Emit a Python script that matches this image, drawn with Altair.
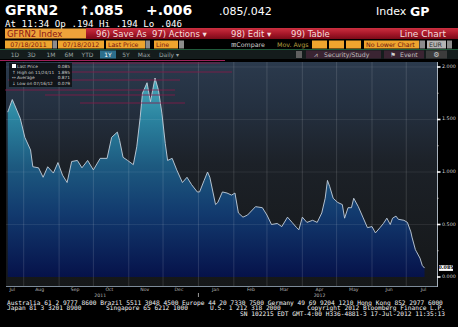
import altair as alt
import pandas as pd

# ---------------- data ----------------
START = "2011-07-18"
day_offsets = [0, 4, 6, 11, 15, 20, 22, 27, 31, 35,
               40, 44, 48, 52, 56, 61, 65, 70, 75, 81,
               87, 91, 96, 98, 101, 105, 110, 113, 116, 118,
               122, 125, 129, 132, 135, 138, 140, 144, 148, 153,
               157, 161, 166, 168, 172, 175, 177, 182, 184, 188,
               192, 196, 199, 202, 206, 210, 217, 223, 227, 231,
               236, 240, 245, 249, 253, 255, 258, 262, 267, 271,
               275, 278, 280, 282, 285, 289, 293, 295, 298, 301,
               303, 307, 311, 315, 319, 322, 326, 329, 332, 335,
               337, 340, 342, 347, 350, 353, 354, 357, 358, 361,
               363, 365]
gfrn2_values = [1.57, 1.69, 1.64, 1.51, 1.33, 1.21, 1.05, 1.04, 0.95, 1.05,
                0.99, 1.09, 0.97, 0.90, 1.10, 1.11, 1.04, 1.11, 1.02, 1.13,
                1.13, 1.33, 1.38, 1.30, 1.14, 1.11, 1.07, 1.24, 1.52, 1.75,
                1.85, 1.67, 1.895, 1.78, 1.56, 1.27, 1.11, 1.13, 1.02, 0.90,
                0.95, 0.88, 0.81, 0.81, 0.92, 1.00, 0.95, 0.69, 0.71, 0.81,
                0.80, 0.78, 0.80, 0.61, 0.57, 0.59, 0.67, 0.66, 0.59, 0.50,
                0.51, 0.48, 0.57, 0.52, 0.47, 0.45, 0.57, 0.52, 0.54, 0.52,
                0.61, 0.75, 0.92, 0.86, 0.75, 0.71, 0.69, 0.56, 0.66, 0.66,
                0.75, 0.67, 0.57, 0.47, 0.48, 0.42, 0.47, 0.51, 0.56, 0.50,
                0.56, 0.58, 0.55, 0.54, 0.52, 0.43, 0.38, 0.26, 0.24, 0.18,
                0.11, 0.085]

month_starts = ["2011-08-01", "2011-09-01", "2011-10-01", "2011-11-01", "2011-12-01",
                "2012-01-01", "2012-02-01", "2012-03-01", "2012-04-01", "2012-05-01",
                "2012-06-01", "2012-07-01"]
month_label_dates = ["2011-07-22", "2011-08-15", "2011-09-15", "2011-10-15", "2011-11-15",
                     "2011-12-15", "2012-01-16", "2012-02-16", "2012-03-16", "2012-04-16",
                     "2012-05-16", "2012-06-16", "2012-07-16"]
month_labels = ["Jul", "Aug", "Sep", "Oct", "Nov", "Dec", "Jan", "Feb", "Mar", "Apr",
                "May", "Jun", "Jul"]
year_label_dates = ["2011-10-07", "2012-04-16"]
year_labels = ["2011", "2012"]
year_break = ["2012-01-01"]
major_ticks = [0.0, 0.5, 1.0, 1.5, 2.0]
minor_ticks = [0.25, 0.75, 1.25, 1.75]
h_grid = [0.5, 1.0, 1.5, 2.0]
legend_names = ["Last Price", "High on 11/24/11", "Average", "Low on 07/16/12"]
legend_values = ["0.085", "1.895", "0.871", "0.079"]
last_price = 0.085

# ---------------- tables ----------------
series = pd.DataFrame({
    "date": pd.Timestamp(START) + pd.to_timedelta(day_offsets, unit="D"),
    "value": gfrn2_values,
})
months_df = pd.DataFrame({"date": pd.to_datetime(month_starts)})
mlab_df = pd.DataFrame({"date": pd.to_datetime(month_label_dates), "label": month_labels})
ylab_df = pd.DataFrame({"date": pd.to_datetime(year_label_dates), "label": year_labels})
ybrk_df = pd.DataFrame({"date": pd.to_datetime(year_break)})
hgrid_df = pd.DataFrame({"v": h_grid})
major_df = pd.DataFrame({"v": major_ticks, "label": [f"{t:.3f}" for t in major_ticks]})
minor_df = pd.DataFrame({"v": minor_ticks})
last_df = pd.DataFrame({"v": [last_price], "label": [f"{last_price:.3f}"]})

# ---------------- layout constants ----------------
W, H = 431, 225
PL, PT = 6, 62
SANS = "DejaVu Sans"
MONO = "DejaVu Sans Mono"
DUMMY = alt.Data(values=[{"k": 1}])

XS = alt.Scale(domain=[alt.DateTime(year=2011, month=7, date=16, hours=12),
                       alt.DateTime(year=2012, month=7, date=27, hours=22)])
YS = alt.Scale(domain=[-0.0952, 2.0476], nice=False, zero=False)
XT = alt.X("date:T", scale=XS, axis=None)


def grad(stops):
    return alt.LinearGradient(
        gradient="linear", x1=0, y1=0, x2=0, y2=1,
        stops=[alt.GradientStop(color=c, offset=o) for o, c in stops])


def prect(x0, y0, x1, y1, fill, opacity=1.0):
    return alt.Chart(DUMMY).mark_rect(fill=fill, opacity=opacity).encode(
        x=alt.value(x0 - PL), x2=alt.value(x1 - PL),
        y=alt.value(y0 - PT), y2=alt.value(y1 - PT))


def prule(x0, x1, y, color, width=1.0, opacity=1.0):
    return alt.Chart(DUMMY).mark_rule(color=color, strokeWidth=width, opacity=opacity).encode(
        x=alt.value(x0 - PL), x2=alt.value(x1 - PL), y=alt.value(y - PT))


def ptext(s, x, y, size, color, font=SANS, weight="normal", align="left"):
    return alt.Chart(DUMMY).mark_text(
        fontSize=size, color=color, font=font, fontWeight=weight,
        align=align, baseline="alphabetic").encode(
        x=alt.value(x - PL), y=alt.value(y - PT), text=alt.value(s))


layers = []

# plot background
layers.append(prect(PL, PT, PL + W, PT + H,
                    grad([(0, "#2b3a4d"), (0.2, "#243040"), (0.45, "#1c2128"), (1, "#151718")])))

# area
area_fill = grad([(0, "#48aabb"), (0.2, "#2b84a0"), (0.44, "#1d5a80"),
                  (0.68, "#123a6e"), (1, "#06124a")])
layers.append(
    alt.Chart(series).mark_area(fill=area_fill, opacity=1).encode(
        x=XT, y=alt.Y("value:Q", scale=YS, axis=None), y2=alt.value(H)))

# grids on top of the area
layers.append(
    alt.Chart(hgrid_df).mark_rule(color="#ffffff", opacity=0.08, strokeWidth=1).encode(
        y=alt.Y("v:Q", scale=YS, axis=None), x=alt.value(0), x2=alt.value(W)))
layers.append(
    alt.Chart(months_df).mark_rule(color="#ffffff", opacity=0.13, strokeWidth=1).encode(
        x=XT, y=alt.value(0), y2=alt.value(H)))

# price line
layers.append(
    alt.Chart(series).mark_line(color="#c4d0dc", strokeWidth=0.9).encode(
        x=XT, y=alt.Y("value:Q", scale=YS, axis=None)))

# right value axis
layers.append(alt.Chart(DUMMY).mark_rule(color="#a8b2bc", strokeWidth=1).encode(
    x=alt.value(W + 0.5), y=alt.value(0), y2=alt.value(H)))
layers.append(
    alt.Chart(major_df).mark_rule(color="#ffffff", strokeWidth=1.6).encode(
        y=alt.Y("v:Q", scale=YS, axis=None), x=alt.value(W), x2=alt.value(W + 3.5)))
layers.append(
    alt.Chart(minor_df).mark_rule(color="#c8c8c8", strokeWidth=1).encode(
        y=alt.Y("v:Q", scale=YS, axis=None), x=alt.value(W), x2=alt.value(W + 1.5)))
layers.append(
    alt.Chart(major_df).mark_text(fontSize=4.8, font=SANS, color="#d8d8d8",
                                  align="left", baseline="middle").encode(
        y=alt.Y("v:Q", scale=YS, axis=None), x=alt.value(W + 5), text="label:N"))

# pink ghost lines of menus
for x0, x1, yy in [(72, 220, 63), (70, 232, 72), (8, 180, 80), (5, 175, 90),
                   (45, 175, 95), (80, 185, 103)]:
    layers.append(prule(x0, x1, yy, "#8a1a48", 1, 0.8))

# legend box
layers.append(prect(9, 63, 72, 87, "#0c0f12", 0.85))
layers.append(prect(12, 64, 16, 68, "#ffffff"))
icons = ["", "↑", "↔", "↓"]
for i, (nm, vv) in enumerate(zip(legend_names, legend_values)):
    yy = 68 + i * 5.7
    if icons[i]:
        layers.append(ptext(icons[i], 12, yy, 4.5, "#d0d0d0"))
    layers.append(ptext(nm, 17, yy, 4.3, "#d0d0d0"))
    layers.append(ptext(vv, 70, yy, 4.3, "#d0d0d0", align="right"))

# last price tag
layers.append(
    alt.Chart(last_df).transform_calculate(
        top="datum.v + 0.027", bot="datum.v - 0.027").mark_rect(fill="#ffffff").encode(
        y=alt.Y("top:Q", scale=YS, axis=None), y2="bot:Q",
        x=alt.value(W + 2), x2=alt.value(W + 16)))
layers.append(
    alt.Chart(last_df).mark_text(fontSize=4.8, font=SANS, fontWeight="bold", color="#000000",
                                 align="center", baseline="middle").encode(
        y=alt.Y("v:Q", scale=YS, axis=None), x=alt.value(W + 9), text="label:N"))

# x axis
layers.append(prule(PL, PL + W, PT + H - 0.5, "#7d8b99", 1))
layers.append(
    alt.Chart(mlab_df).mark_text(fontSize=4.6, font=SANS, color="#b8b8b8",
                                 baseline="middle").encode(
        x=XT, y=alt.value(H + 3), text="label:N"))
layers.append(
    alt.Chart(ylab_df).mark_text(fontSize=4.6, font=SANS, color="#b8b8b8",
                                 baseline="middle").encode(
        x=XT, y=alt.value(H + 9), text="label:N"))
layers.append(
    alt.Chart(ybrk_df).mark_rule(color="#9a9a9a", strokeWidth=1).encode(
        x=XT, y=alt.value(H + 6), y2=alt.value(H + 10)))

# ---------------- header ----------------
layers.append(ptext("GFRN2", 5, 15, 14, "#ffffff", weight="bold"))
layers.append(ptext("↑", 79, 15, 13, "#ffffff", weight="bold"))
layers.append(ptext(".085", 89, 15, 14, "#ffffff", weight="bold"))
layers.append(ptext("+.006", 146, 15, 14, "#ffffff", weight="bold"))
layers.append(ptext(".085/.042", 219, 15, 11, "#ffffff"))
layers.append(ptext("Index", 376, 15, 11, "#ffffff"))
layers.append(ptext("GP", 410, 15.5, 12.5, "#ffffff", weight="bold"))
layers.append(ptext("At 11:34 Op .194 Hi .194 Lo .046", 5, 27, 9.2, "#ffffff", font=MONO))

# toolbar row 1
layers.append(prect(86, 28, 458, 39, grad([(0, "#cc3040"), (0.5, "#a8182a"), (1, "#7a0a18")])))
layers.append(prect(5, 28.5, 86, 38.5, "#eea23a"))
layers.append(ptext("GFRN2 Index", 7, 36.5, 8.5, "#8a1414"))
layers.append(ptext("96) Save As", 96, 36.5, 8.5, "#f6dede"))
layers.append(ptext("97) Actions ▾", 152, 36.5, 8.5, "#f6dede"))
layers.append(ptext("98) Edit ▾", 231, 36.5, 8.5, "#f6dede"))
layers.append(ptext("99) Table", 291, 36.5, 8.5, "#f6dede"))
layers.append(ptext("Line Chart", 446, 36.5, 9, "#f6dede", align="right"))

# toolbar row 2
ORG = "#eea52e"
for x0, x1, lab, centered in [(5, 52, "07/18/2011", True), (58, 104, "07/18/2012", True),
                              (106, 145, "Last Price", False), (154, 178, "Line", False)]:
    layers.append(prect(x0, 40.5, x1, 48.5, ORG))
    layers.append(ptext(lab, (x0 + x1) / 2 if centered else x0 + 2, 47, 6.3, "#7a1010",
                        align="center" if centered else "left"))
for x0, x1 in [(52.5, 57), (145.5, 150), (179, 184), (419.5, 425), (447, 452)]:
    layers.append(prect(x0, 40.5, x1, 48.5, "#8c8c8c"))
layers.append(ptext("⊞Compare", 231, 47, 6.3, "#cfcfcf"))
layers.append(ptext("Mov. Avgs", 277, 47, 6.3, "#b8a040"))
for x0, x1 in [(312, 327), (329, 344), (346, 361)]:
    layers.append(prect(x0, 40.5, x1, 48.5, ORG))
layers.append(prect(364, 40.5, 419, 48.5, ORG))
layers.append(ptext("No Lower Chart", 366, 47, 6.3, "#6a1010"))
layers.append(prect(427, 40.5, 446, 48.5, "#b4b4b4"))
layers.append(ptext("EUR", 429, 47, 6.3, "#303030"))

# toolbar row 3
layers.append(prule(0, 458, 49.5, "#1f5a3a", 1))
layers.append(prect(0, 50, 458, 59, "#141c1c"))
for cx, lab in [(15, "1D"), (31.5, "3D"), (51, "1M"), (69, "6M"), (87.5, "YTD"),
                (126, "5Y"), (144, "Max"), (169, "Daily ▾")]:
    layers.append(ptext(lab, cx, 57, 6, "#9aa4a4", align="center"))
layers.append(prect(100, 50.5, 116, 58.5, "#2c6e8c"))
layers.append(ptext("1Y", 108, 57, 6, "#ffffff", align="center"))
layers.append(prect(296, 51, 302, 58, "#606060"))
layers.append(prect(306, 50.5, 381, 58.5, "#3a2432"))
layers.append(ptext("⩘", 316, 57, 6.5, "#c8c8c8", align="center"))
layers.append(ptext("Security/Study", 324, 57, 6.2, "#c0c0c0"))
layers.append(prect(384, 50.5, 424, 58.5, "#3a2432"))
layers.append(ptext("⚑", 393, 57, 6.2, "#d0d0d0", align="center"))
layers.append(ptext("Event", 400, 57, 6.2, "#c0c0c0"))
layers.append(prect(426, 50.5, 447, 58.5, "#3c3c3c"))
layers.append(ptext("⚙", 436.5, 57, 7, "#d0d0d0", align="center"))
layers.append(prule(0, 225, 60.5, "#a0205a", 1))

# footer
FOOT = "#f2f2f2"
layers.append(ptext("Australia 61 2 9777 8600 Brazil 5511 3048 4500 Europe 44 20 7330 7500 "
                    "Germany 49 69 9204 1210 Hong Kong 852 2977 6000", 7, 304.5, 6.2, FOOT, font=MONO))
layers.append(ptext("Japan 81 3 3201 8900", 7, 310.2, 6.2, FOOT, font=MONO))
layers.append(ptext("Singapore 65 6212 1000", 106, 310.2, 6.2, FOOT, font=MONO))
layers.append(ptext("U.S. 1 212 318 2000", 210, 310.2, 6.2, FOOT, font=MONO))
layers.append(ptext("Copyright 2012 Bloomberg Finance L.P.", 445, 310.2, 6.2, FOOT,
                    font=MONO, align="right"))
layers.append(ptext("SN 102215 EDT  GMT-4:00 H336-4881-3 17-Jul-2012 11:35:13", 445, 316,
                    6.2, FOOT, font=MONO, align="right"))

chart = alt.layer(*layers).properties(
    width=W, height=H,
    padding={"left": PL, "top": PT, "right": 458 - PL - W, "bottom": 327 - PT - H},
    autosize=alt.AutoSizeParams(type="none"),
    background="#000000",
).configure_view(strokeWidth=0)

chart.save("out.html", embed_options={"renderer": "svg", "actions": False})
